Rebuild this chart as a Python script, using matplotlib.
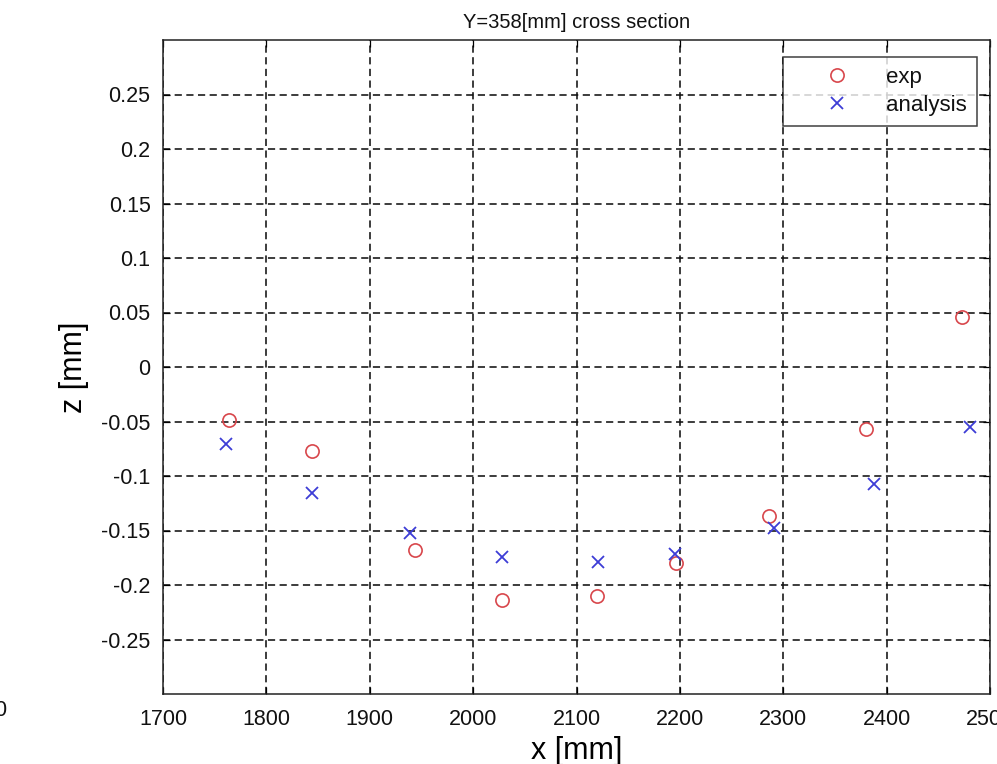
import matplotlib
matplotlib.use("Agg")
import matplotlib.pyplot as plt

exp_x = [1764, 1844, 1944, 2028, 2120, 2196, 2286, 2380, 2473]
exp_z = [-0.049, -0.077, -0.168, -0.214, -0.210, -0.180, -0.137, -0.057, 0.046]
ana_x = [1761, 1844, 1939, 2028, 2121, 2195, 2291, 2388, 2481]
ana_z = [-0.071, -0.116, -0.152, -0.174, -0.179, -0.172, -0.148, -0.107, -0.055]

xticks = [1700, 1800, 1900, 2000, 2100, 2200, 2300, 2400, 2500]
yticks = [-0.25, -0.2, -0.15, -0.1, -0.05, 0, 0.05, 0.1, 0.15, 0.2, 0.25]
ytick_labels = ["-0.25", "-0.2", "-0.15", "-0.1", "-0.05", "0", "0.05", "0.1", "0.15", "0.2", "0.25"]

plt.rcParams['font.family'] = ['Liberation Sans', 'DejaVu Sans']
plt.rcParams['text.color'] = '#111111'

fig = plt.figure(figsize=(9.97, 7.64), dpi=100)
ax = fig.add_axes([163/997, 70/764, (990-163)/997, (694-40)/764])

ax.plot(exp_x, exp_z, linestyle='none', marker='o', markersize=9.5, markerfacecolor='none',
        markeredgecolor='#d8474c', markeredgewidth=1.2, label='exp')
ax.plot(ana_x, ana_z, linestyle='none', marker='x', markersize=8.5,
        color='#3d3dd6', markeredgewidth=1.3, label='analysis')

ax.set_xlim(1700, 2500)
ax.set_ylim(-0.3, 0.3)
ax.set_xticks(xticks)
ax.set_yticks(yticks)
ax.set_yticklabels(ytick_labels)
ax.tick_params(direction='in', length=5, width=0.9, labelsize=15.5, top=True, right=True,
               labelcolor='#111111')
ax.tick_params(axis='x', pad=11)
ax.tick_params(axis='y', pad=9)
ax.grid(True, color='#111111', linestyle=(0, (4.5, 2.8)), linewidth=1.15)
for s in ax.spines.values():
    s.set_linewidth(1.1)
    s.set_color('#222222')

ax.set_title('Y=358[mm] cross section', fontsize=14.5, pad=9)
ax.set_xlabel('x [mm]', fontsize=22, labelpad=4)
ax.set_ylabel('z [mm]', fontsize=22, labelpad=9)

leg = ax.legend(loc='upper right', bbox_to_anchor=(977/997, 1 - 57/764), bbox_transform=fig.transFigure,
                fontsize=16, frameon=True, fancybox=False, edgecolor='#111111',
                handlelength=4.0, handletextpad=0.2, borderpad=0.45, labelspacing=0.3,
                borderaxespad=0)
leg.get_frame().set_linewidth(1.1)

fig.text(0.0, 1 - 710/764, '0', fontsize=15.5, ha='center', va='center')

fig.savefig('out.png', dpi=100)
